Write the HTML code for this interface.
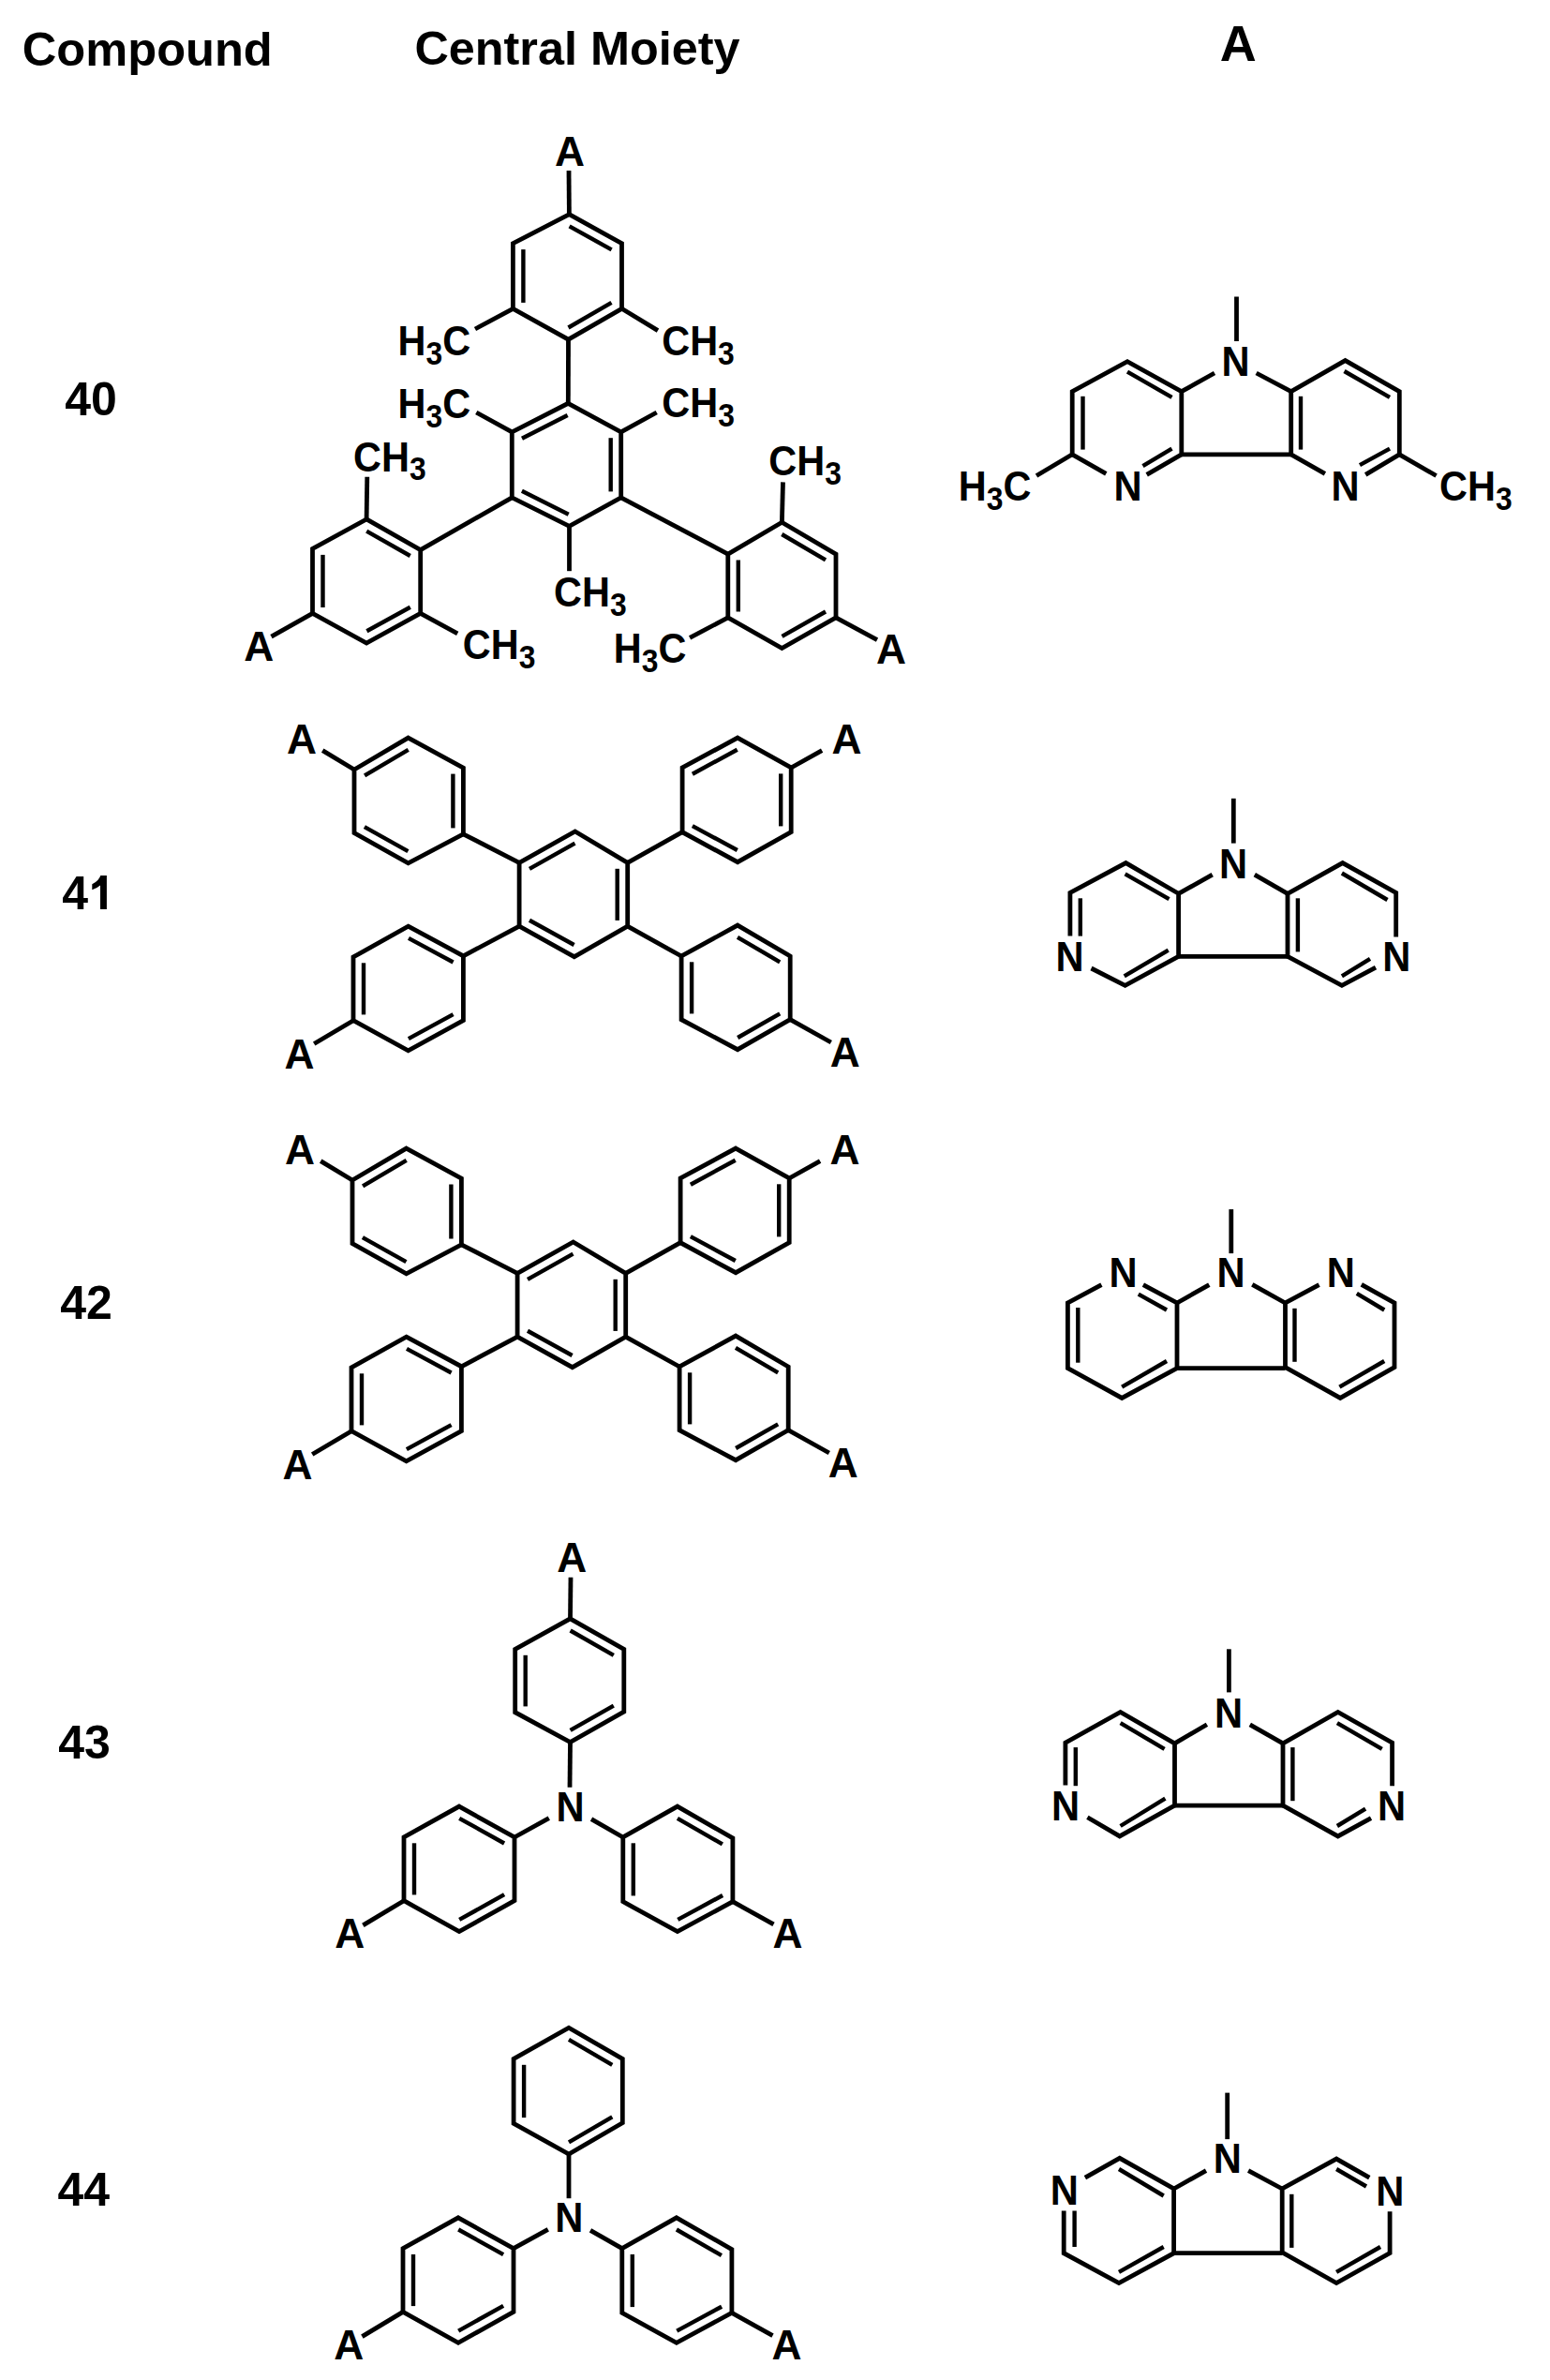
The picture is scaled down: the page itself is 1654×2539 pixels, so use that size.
<!DOCTYPE html>
<html><head><meta charset="utf-8"><style>
html,body{margin:0;padding:0;background:#fff;}
svg{display:block;}
.i{stroke-width:4.4px;}
</style></head><body>
<svg width="1654" height="2539" viewBox="0 0 1654 2539">
<rect width="1654" height="2539" fill="#fff"/>
<g stroke="#000" stroke-width="4.8" fill="none" stroke-linejoin="miter" stroke-linecap="butt">
<path d="M113.9,933.9 L113.9,969.9 L107,969.9 L107,944.5 Q103,948 98.3,949.2 L98.3,943.2 Q101.8,941.8 104.5,938.8 Q106.5,936.3 107.3,933.9 Z" fill="#000" stroke="none"/>
<path d="M607.4,228.7 L663.5,259.7 L663.5,329.3 L606.5,362.2 L547.4,329.3 L547.4,259.7 Z"/>
<line class="i" x1="607.6" y1="241.4" x2="652.6" y2="266.3"/>
<line class="i" x1="652.5" y1="322.9" x2="606.5" y2="349.5"/>
<line class="i" x1="558.4" y1="322.9" x2="558.4" y2="266.1"/>
<line x1="607.4" y1="228.7" x2="607.0" y2="182.0"/>
<line x1="547.4" y1="329.3" x2="507.0" y2="351.0"/>
<line x1="663.5" y1="329.3" x2="702.0" y2="352.6"/>
<line x1="606.5" y1="362.2" x2="606.3" y2="430.3"/>
<path d="M606.3,430.3 L662.7,460.9 L662.7,530.8 L607.5,561.4 L546.3,530.8 L546.3,460.9 Z"/>
<line class="i" x1="557.0" y1="467.8" x2="605.6" y2="443.0"/>
<line class="i" x1="651.7" y1="467.2" x2="651.7" y2="524.4"/>
<line class="i" x1="606.7" y1="548.7" x2="556.9" y2="523.8"/>
<line x1="546.3" y1="460.9" x2="508.3" y2="440.0"/>
<line x1="662.7" y1="460.9" x2="700.7" y2="440.0"/>
<line x1="607.5" y1="561.4" x2="607.5" y2="609.2"/>
<line x1="546.3" y1="530.8" x2="448.7" y2="586.6"/>
<line x1="662.7" y1="530.8" x2="776.8" y2="591.1"/>
<path d="M391.1,553.9 L448.7,586.6 L448.7,654.4 L391.1,686.0 L333.5,654.4 L333.5,585.5 Z"/>
<line class="i" x1="391.2" y1="566.6" x2="437.7" y2="593.0"/>
<line class="i" x1="437.8" y1="647.8" x2="391.4" y2="673.3"/>
<line class="i" x1="344.5" y1="648.0" x2="344.5" y2="591.9"/>
<line x1="391.1" y1="553.9" x2="391.8" y2="508.7"/>
<line x1="448.7" y1="654.4" x2="488.2" y2="675.8"/>
<line x1="333.5" y1="654.4" x2="289.5" y2="679.2"/>
<path d="M834.4,557.3 L892.0,591.1 L892.0,658.9 L834.4,691.6 L776.8,658.9 L776.8,591.1 Z"/>
<line class="i" x1="834.3" y1="570.0" x2="881.0" y2="597.4"/>
<line class="i" x1="881.0" y1="652.5" x2="834.5" y2="678.9"/>
<line class="i" x1="787.8" y1="652.5" x2="787.8" y2="597.5"/>
<line x1="834.4" y1="557.3" x2="835.5" y2="514.4"/>
<line x1="776.8" y1="658.9" x2="736.1" y2="680.3"/>
<line x1="892.0" y1="658.9" x2="936.0" y2="682.6"/>
<path d="M435.6,787.1 L494.4,819.2 L494.4,889.8 L435.6,920.8 L378.0,888.7 L378.0,821.0 Z"/>
<line class="i" x1="389.1" y1="827.3" x2="435.7" y2="799.8"/>
<line class="i" x1="483.4" y1="825.6" x2="483.4" y2="883.4"/>
<line class="i" x1="435.4" y1="908.1" x2="388.9" y2="882.2"/>
<line x1="378.0" y1="821.0" x2="344.2" y2="800.6"/>
<path d="M613.7,887.0 L669.7,920.4 L669.7,988.2 L612.8,1020.7 L554.1,988.2 L554.1,920.4 Z"/>
<line class="i" x1="565.0" y1="926.9" x2="613.5" y2="899.7"/>
<line class="i" x1="658.7" y1="926.8" x2="658.7" y2="981.9"/>
<line class="i" x1="612.6" y1="1008.0" x2="565.0" y2="981.7"/>
<line x1="494.4" y1="889.8" x2="554.1" y2="920.4"/>
<path d="M787.1,787.1 L844.2,819.0 L844.2,887.7 L787.1,919.7 L728.1,887.7 L728.1,819.0 Z"/>
<line class="i" x1="738.9" y1="825.7" x2="786.7" y2="799.8"/>
<line class="i" x1="833.2" y1="825.4" x2="833.2" y2="881.4"/>
<line class="i" x1="786.8" y1="907.0" x2="738.9" y2="881.1"/>
<line x1="669.7" y1="920.4" x2="728.1" y2="887.7"/>
<line x1="844.2" y1="819.0" x2="877.1" y2="800.6"/>
<path d="M435.6,988.2 L494.4,1019.8 L494.4,1088.7 L435.6,1120.8 L377.0,1088.7 L377.0,1021.0 Z"/>
<line class="i" x1="436.0" y1="1000.9" x2="483.6" y2="1026.5"/>
<line class="i" x1="388.0" y1="1082.4" x2="388.0" y2="1027.3"/>
<line class="i" x1="483.6" y1="1082.1" x2="435.9" y2="1108.1"/>
<line x1="554.1" y1="988.2" x2="494.4" y2="1019.8"/>
<line x1="377.0" y1="1088.7" x2="335.2" y2="1113.5"/>
<path d="M787.1,987.1 L843.2,1020.0 L843.2,1087.7 L787.1,1119.7 L727.1,1087.7 L727.1,1020.0 Z"/>
<line class="i" x1="787.0" y1="999.8" x2="832.2" y2="1026.3"/>
<line class="i" x1="738.1" y1="1081.4" x2="738.1" y2="1026.3"/>
<line class="i" x1="832.2" y1="1081.3" x2="787.2" y2="1107.0"/>
<line x1="669.7" y1="988.2" x2="727.1" y2="1020.0"/>
<line x1="843.2" y1="1087.7" x2="886.8" y2="1112.0"/>
<path d="M433.6,1225.1 L492.4,1257.2 L492.4,1327.8 L433.6,1358.8 L376.0,1326.7 L376.0,1259.0 Z"/>
<line class="i" x1="387.1" y1="1265.3" x2="433.7" y2="1237.8"/>
<line class="i" x1="481.4" y1="1263.5" x2="481.4" y2="1321.5"/>
<line class="i" x1="433.4" y1="1346.1" x2="386.9" y2="1320.2"/>
<line x1="376.0" y1="1259.0" x2="342.2" y2="1238.6"/>
<path d="M611.7,1325.0 L667.7,1358.4 L667.7,1426.2 L610.8,1458.7 L552.1,1426.2 L552.1,1358.4 Z"/>
<line class="i" x1="563.0" y1="1364.9" x2="611.5" y2="1337.7"/>
<line class="i" x1="656.7" y1="1364.8" x2="656.7" y2="1419.9"/>
<line class="i" x1="610.6" y1="1446.0" x2="563.0" y2="1419.7"/>
<line x1="492.4" y1="1327.8" x2="552.1" y2="1358.4"/>
<path d="M785.1,1225.1 L842.2,1257.0 L842.2,1325.7 L785.1,1357.7 L726.1,1325.7 L726.1,1257.0 Z"/>
<line class="i" x1="736.9" y1="1263.7" x2="784.7" y2="1237.8"/>
<line class="i" x1="831.2" y1="1263.3" x2="831.2" y2="1319.4"/>
<line class="i" x1="784.8" y1="1345.0" x2="736.9" y2="1319.1"/>
<line x1="667.7" y1="1358.4" x2="726.1" y2="1325.7"/>
<line x1="842.2" y1="1257.0" x2="875.1" y2="1238.6"/>
<path d="M433.6,1426.2 L492.4,1457.8 L492.4,1526.7 L433.6,1558.8 L375.0,1526.7 L375.0,1459.0 Z"/>
<line class="i" x1="434.0" y1="1438.9" x2="481.6" y2="1464.5"/>
<line class="i" x1="386.0" y1="1520.4" x2="386.0" y2="1465.3"/>
<line class="i" x1="481.6" y1="1520.1" x2="433.9" y2="1546.1"/>
<line x1="552.1" y1="1426.2" x2="492.4" y2="1457.8"/>
<line x1="375.0" y1="1526.7" x2="333.2" y2="1551.5"/>
<path d="M785.1,1425.1 L841.2,1458.0 L841.2,1525.7 L785.1,1557.7 L725.1,1525.7 L725.1,1458.0 Z"/>
<line class="i" x1="785.0" y1="1437.8" x2="830.2" y2="1464.3"/>
<line class="i" x1="736.1" y1="1519.4" x2="736.1" y2="1464.3"/>
<line class="i" x1="830.2" y1="1519.3" x2="785.2" y2="1545.0"/>
<line x1="667.7" y1="1426.2" x2="725.1" y2="1458.0"/>
<line x1="841.2" y1="1525.7" x2="884.8" y2="1550.0"/>
<path d="M490.0,1927.1 L549.0,1960.0 L549.0,2027.7 L490.0,2060.6 L431.0,2027.7 L431.0,1960.0 Z"/>
<line class="i" x1="490.2" y1="1939.8" x2="538.1" y2="1966.5"/>
<line class="i" x1="442.0" y1="2021.4" x2="442.0" y2="1966.3"/>
<line class="i" x1="538.1" y1="2021.2" x2="490.2" y2="2047.9"/>
<line x1="549.0" y1="1960.0" x2="585.8" y2="1939.7"/>
<line x1="431.0" y1="2027.7" x2="387.4" y2="2053.9"/>
<path d="M722.9,1927.1 L781.9,1961.0 L781.9,2028.7 L722.9,2060.6 L664.8,2028.7 L664.8,1960.0 Z"/>
<line class="i" x1="722.9" y1="1939.8" x2="770.9" y2="1967.4"/>
<line class="i" x1="675.8" y1="2022.4" x2="675.8" y2="1966.3"/>
<line class="i" x1="771.1" y1="2022.0" x2="723.3" y2="2047.9"/>
<line x1="664.8" y1="1960.0" x2="631.0" y2="1940.6"/>
<line x1="781.9" y1="2028.7" x2="825.5" y2="2052.9"/>
<path d="M608.5,1726.8 L665.8,1759.4 L665.8,1826.0 L608.5,1858.5 L549.7,1826.7 L549.7,1759.4 Z"/>
<line class="i" x1="608.6" y1="1739.5" x2="654.8" y2="1765.8"/>
<line class="i" x1="560.7" y1="1820.4" x2="560.7" y2="1765.8"/>
<line class="i" x1="654.8" y1="1819.6" x2="608.6" y2="1845.8"/>
<line x1="608.5" y1="1726.8" x2="609.0" y2="1682.7"/>
<line x1="608.5" y1="1858.5" x2="608.0" y2="1906.8"/>
<path d="M489.0,2365.8 L548.0,2398.7 L548.0,2466.4 L489.0,2499.3 L430.0,2466.4 L430.0,2398.7 Z"/>
<line class="i" x1="489.2" y1="2378.5" x2="537.1" y2="2405.2"/>
<line class="i" x1="441.0" y1="2460.1" x2="441.0" y2="2405.0"/>
<line class="i" x1="537.1" y1="2459.9" x2="489.2" y2="2486.6"/>
<line x1="548.0" y1="2398.7" x2="584.8" y2="2378.4"/>
<line x1="430.0" y1="2466.4" x2="386.4" y2="2492.6"/>
<path d="M721.9,2365.8 L780.9,2399.7 L780.9,2467.4 L721.9,2499.3 L663.8,2467.4 L663.8,2398.7 Z"/>
<line class="i" x1="721.9" y1="2378.5" x2="769.9" y2="2406.1"/>
<line class="i" x1="674.8" y1="2461.1" x2="674.8" y2="2405.0"/>
<line class="i" x1="770.1" y1="2460.7" x2="722.3" y2="2486.6"/>
<line x1="663.8" y1="2398.7" x2="630.0" y2="2379.3"/>
<line x1="780.9" y1="2467.4" x2="824.5" y2="2491.6"/>
<path d="M607.0,2163.2 L664.3,2196.5 L664.3,2264.7 L607.0,2298.0 L548.1,2265.4 L548.1,2196.5 Z"/>
<line class="i" x1="607.0" y1="2175.9" x2="653.3" y2="2202.8"/>
<line class="i" x1="559.1" y1="2259.1" x2="559.1" y2="2202.8"/>
<line class="i" x1="653.3" y1="2258.4" x2="607.0" y2="2285.3"/>
<line x1="607.0" y1="2298.0" x2="607.0" y2="2345.2"/>
<path d="M1180.3,505.4 L1144.2,484.8 L1144.2,417.7 L1203.0,385.7 L1260.8,417.7 L1260.8,484.8 L1223.7,506.4"/>
<line class="i" x1="1155.5" y1="422.8" x2="1155.5" y2="479.6"/>
<line class="i" x1="1203.0" y1="396.6" x2="1250.5" y2="423.9"/>
<line class="i" x1="1219.5" y1="497.2" x2="1250.5" y2="478.6"/>
<line x1="1260.8" y1="417.7" x2="1296.0" y2="398.0"/>
<line x1="1260.8" y1="484.8" x2="1377.7" y2="484.8"/>
<line x1="1144.2" y1="484.8" x2="1106.0" y2="507.5"/>
<line x1="1319.5" y1="316.5" x2="1319.5" y2="364.0"/>
<path d="M1413.9,505.4 L1377.7,484.8 L1377.7,417.7 L1435.5,384.6 L1493.3,417.7 L1493.3,484.8 L1457.2,506.4"/>
<line x1="1340.6" y1="398.0" x2="1377.7" y2="417.7"/>
<line class="i" x1="1388.0" y1="422.8" x2="1388.0" y2="479.6"/>
<line class="i" x1="1434.5" y1="396.0" x2="1483.0" y2="423.9"/>
<line class="i" x1="1451.0" y1="496.1" x2="1483.0" y2="478.6"/>
<line x1="1493.3" y1="484.8" x2="1532.6" y2="507.5"/>
<path d="M1164.5,1033.0 L1200.6,1051.4 L1257.6,1020.4 L1257.6,953.3 L1201.4,920.6 L1141.9,952.5 L1141.9,998.6"/>
<line class="i" x1="1152.8" y1="958.3" x2="1152.8" y2="998.6"/>
<line class="i" x1="1200.6" y1="932.3" x2="1247.5" y2="959.2"/>
<line class="i" x1="1199.7" y1="1041.4" x2="1246.7" y2="1013.7"/>
<line x1="1257.6" y1="953.3" x2="1293.7" y2="933.2"/>
<line x1="1257.6" y1="1020.4" x2="1374.0" y2="1020.4"/>
<line x1="1316.3" y1="851.8" x2="1316.3" y2="899.6"/>
<path d="M1468.0,1032.1 L1431.9,1051.4 L1374.0,1020.4 L1374.0,953.3 L1432.7,920.6 L1489.7,952.5 L1489.7,999.4"/>
<line x1="1338.8" y1="933.2" x2="1374.0" y2="953.3"/>
<line class="i" x1="1384.9" y1="958.3" x2="1384.9" y2="1015.4"/>
<line class="i" x1="1431.9" y1="931.5" x2="1480.5" y2="960.0"/>
<line class="i" x1="1462.0" y1="1022.9" x2="1431.9" y2="1041.4"/>
<path d="M1175.4,1370.6 L1139.4,1390.0 L1139.4,1459.6 L1197.2,1491.4 L1256.0,1459.6 L1256.0,1390.0 L1219.9,1370.6"/>
<line class="i" x1="1214.8" y1="1380.7" x2="1245.0" y2="1397.5"/>
<line class="i" x1="1197.2" y1="1479.7" x2="1245.0" y2="1452.0"/>
<line class="i" x1="1150.3" y1="1395.0" x2="1150.3" y2="1453.7"/>
<line x1="1256.0" y1="1390.0" x2="1290.3" y2="1370.6"/>
<line x1="1256.0" y1="1459.6" x2="1371.5" y2="1459.6"/>
<line x1="1313.8" y1="1290.1" x2="1313.8" y2="1337.1"/>
<path d="M1407.6,1370.6 L1371.5,1390.0 L1371.5,1458.7 L1430.2,1491.4 L1488.0,1458.7 L1488.0,1390.0 L1452.8,1370.3"/>
<line x1="1336.3" y1="1370.3" x2="1371.5" y2="1390.0"/>
<line class="i" x1="1447.8" y1="1379.9" x2="1477.2" y2="1397.5"/>
<line class="i" x1="1477.2" y1="1452.0" x2="1429.4" y2="1479.7"/>
<line class="i" x1="1381.5" y1="1395.8" x2="1381.5" y2="1452.8"/>
<path d="M1160.4,1938.8 L1194.8,1958.9 L1253.5,1926.2 L1253.5,1859.9 L1195.6,1826.4 L1136.9,1859.1 L1136.9,1904.4"/>
<line class="i" x1="1147.8" y1="1864.1" x2="1147.8" y2="1905.2"/>
<line class="i" x1="1195.6" y1="1838.1" x2="1242.6" y2="1865.8"/>
<line class="i" x1="1195.6" y1="1948.0" x2="1243.4" y2="1918.6"/>
<line x1="1253.5" y1="1859.9" x2="1287.9" y2="1839.8"/>
<line x1="1253.5" y1="1926.2" x2="1369.0" y2="1926.2"/>
<line x1="1311.4" y1="1759.3" x2="1311.4" y2="1805.4"/>
<path d="M1463.0,1939.6 L1427.7,1958.9 L1369.0,1926.2 L1369.0,1859.9 L1427.7,1826.4 L1485.6,1859.1 L1485.6,1905.2"/>
<line x1="1333.8" y1="1839.8" x2="1369.0" y2="1859.9"/>
<line class="i" x1="1379.4" y1="1864.1" x2="1379.4" y2="1921.2"/>
<line class="i" x1="1426.9" y1="1838.1" x2="1474.7" y2="1865.8"/>
<line class="i" x1="1457.1" y1="1929.6" x2="1426.9" y2="1948.0"/>
<path d="M1157.9,2323.2 L1194.8,2302.3 L1252.6,2335.0 L1252.6,2403.7 L1194.0,2435.6 L1135.2,2403.7 L1135.2,2358.5"/>
<line class="i" x1="1194.0" y1="2314.0" x2="1241.7" y2="2342.5"/>
<line class="i" x1="1194.0" y1="2423.9" x2="1241.7" y2="2397.0"/>
<line class="i" x1="1146.6" y1="2358.5" x2="1146.6" y2="2397.0"/>
<line x1="1252.6" y1="2335.0" x2="1287.0" y2="2315.7"/>
<line x1="1252.6" y1="2403.7" x2="1368.2" y2="2403.7"/>
<line x1="1309.7" y1="2232.6" x2="1309.7" y2="2282.1"/>
<path d="M1461.3,2323.2 L1426.1,2303.1 L1368.2,2335.0 L1368.2,2402.9 L1426.1,2435.6 L1483.1,2403.7 L1483.1,2359.3"/>
<line x1="1332.1" y1="2315.7" x2="1368.2" y2="2335.0"/>
<line class="i" x1="1426.1" y1="2314.0" x2="1458.0" y2="2332.5"/>
<line class="i" x1="1473.0" y1="2397.0" x2="1426.1" y2="2423.9"/>
<line class="i" x1="1378.3" y1="2340.8" x2="1378.3" y2="2397.9"/>
</g>
<g fill="#000" font-family="'Liberation Sans', sans-serif" font-weight="bold">
<text x="23.8" y="69.7" font-size="50.6" >Compound</text>
<text x="442.4" y="69.2" font-size="50.4" >Central Moiety</text>
<text x="1301.7" y="64.9" font-size="54" >A</text>
<text x="69.2" y="443.3" font-size="50" >40</text>
<text x="66.3" y="969.9" font-size="50" >4</text>
<text x="64.2" y="1406.8" font-size="50" >42</text>
<text x="62.2" y="1875.9" font-size="50" >43</text>
<text x="61.4" y="2352.6" font-size="50" >44</text>
<text transform="translate(591.9,177.4) scale(1.03,1.045)" font-size="43">A</text>
<text transform="translate(424.6,379.0) scale(0.965,1.045)" font-size="43">H<tspan font-size="33" dy="9.4">3</tspan><tspan dy="-9.4">C</tspan></text>
<text transform="translate(706.2,378.9) scale(0.965,1.045)" font-size="43">CH<tspan font-size="33" dy="9.4">3</tspan></text>
<text transform="translate(424.6,445.7) scale(0.965,1.045)" font-size="43">H<tspan font-size="33" dy="9.4">3</tspan><tspan dy="-9.4">C</tspan></text>
<text transform="translate(706.3,445.0) scale(0.965,1.045)" font-size="43">CH<tspan font-size="33" dy="9.4">3</tspan></text>
<text transform="translate(591.1,647.0) scale(0.965,1.045)" font-size="43">CH<tspan font-size="33" dy="9.4">3</tspan></text>
<text transform="translate(377.0,502.5) scale(0.965,1.045)" font-size="43">CH<tspan font-size="33" dy="9.4">3</tspan></text>
<text transform="translate(493.8,702.8) scale(0.965,1.045)" font-size="43">CH<tspan font-size="33" dy="9.4">3</tspan></text>
<text transform="translate(260.2,704.5) scale(1.03,1.045)" font-size="43">A</text>
<text transform="translate(820.3,507.3) scale(0.965,1.045)" font-size="43">CH<tspan font-size="33" dy="9.4">3</tspan></text>
<text transform="translate(654.8,707.4) scale(0.965,1.045)" font-size="43">H<tspan font-size="33" dy="9.4">3</tspan><tspan dy="-9.4">C</tspan></text>
<text transform="translate(934.9,707.9) scale(1.03,1.045)" font-size="43">A</text>
<text transform="translate(305.9,804.0) scale(1.03,1.045)" font-size="43">A</text>
<text transform="translate(887.6,803.5) scale(1.03,1.045)" font-size="43">A</text>
<text transform="translate(303.6,1139.5) scale(1.03,1.045)" font-size="43">A</text>
<text transform="translate(885.7,1138.0) scale(1.03,1.045)" font-size="43">A</text>
<text transform="translate(303.9,1242.0) scale(1.03,1.045)" font-size="43">A</text>
<text transform="translate(885.6,1241.5) scale(1.03,1.045)" font-size="43">A</text>
<text transform="translate(301.6,1577.5) scale(1.03,1.045)" font-size="43">A</text>
<text transform="translate(883.7,1576.0) scale(1.03,1.045)" font-size="43">A</text>
<text transform="translate(357.3,2078.0) scale(1.03,1.045)" font-size="43">A</text>
<text transform="translate(824.4,2078.0) scale(1.03,1.045)" font-size="43">A</text>
<text transform="translate(594.3,1676.5) scale(1.03,1.045)" font-size="43">A</text>
<text transform="translate(593.6,1942.6) scale(0.97,1.045)" font-size="43">N</text>
<text transform="translate(356.3,2516.7) scale(1.03,1.045)" font-size="43">A</text>
<text transform="translate(823.4,2516.7) scale(1.03,1.045)" font-size="43">A</text>
<text transform="translate(592.2,2381.3) scale(0.97,1.045)" font-size="43">N</text>
<text transform="translate(1022.7,534.3) scale(0.965,1.045)" font-size="43">H<tspan font-size="33" dy="9.4">3</tspan><tspan dy="-9.4">C</tspan></text>
<text transform="translate(1188.5,534.3) scale(0.97,1.045)" font-size="43">N</text>
<text transform="translate(1303.5,401.2) scale(0.97,1.045)" font-size="43">N</text>
<text transform="translate(1536.0,534.3) scale(0.965,1.045)" font-size="43">CH<tspan font-size="33" dy="9.4">3</tspan></text>
<text transform="translate(1420.4,534.3) scale(0.97,1.045)" font-size="43">N</text>
<text transform="translate(1126.5,1035.5) scale(0.97,1.045)" font-size="43">N</text>
<text transform="translate(1300.9,936.5) scale(0.97,1.045)" font-size="43">N</text>
<text transform="translate(1475.2,1035.5) scale(0.97,1.045)" font-size="43">N</text>
<text transform="translate(1183.5,1373.2) scale(0.97,1.045)" font-size="43">N</text>
<text transform="translate(1298.4,1373.2) scale(0.97,1.045)" font-size="43">N</text>
<text transform="translate(1415.7,1373.2) scale(0.97,1.045)" font-size="43">N</text>
<text transform="translate(1122.0,1942.1) scale(0.97,1.045)" font-size="43">N</text>
<text transform="translate(1296.0,1842.7) scale(0.97,1.045)" font-size="43">N</text>
<text transform="translate(1469.9,1942.1) scale(0.97,1.045)" font-size="43">N</text>
<text transform="translate(1120.7,2351.7) scale(0.97,1.045)" font-size="43">N</text>
<text transform="translate(1294.8,2318.2) scale(0.97,1.045)" font-size="43">N</text>
<text transform="translate(1468.2,2352.6) scale(0.97,1.045)" font-size="43">N</text>
</g>
</svg>
</body></html>
